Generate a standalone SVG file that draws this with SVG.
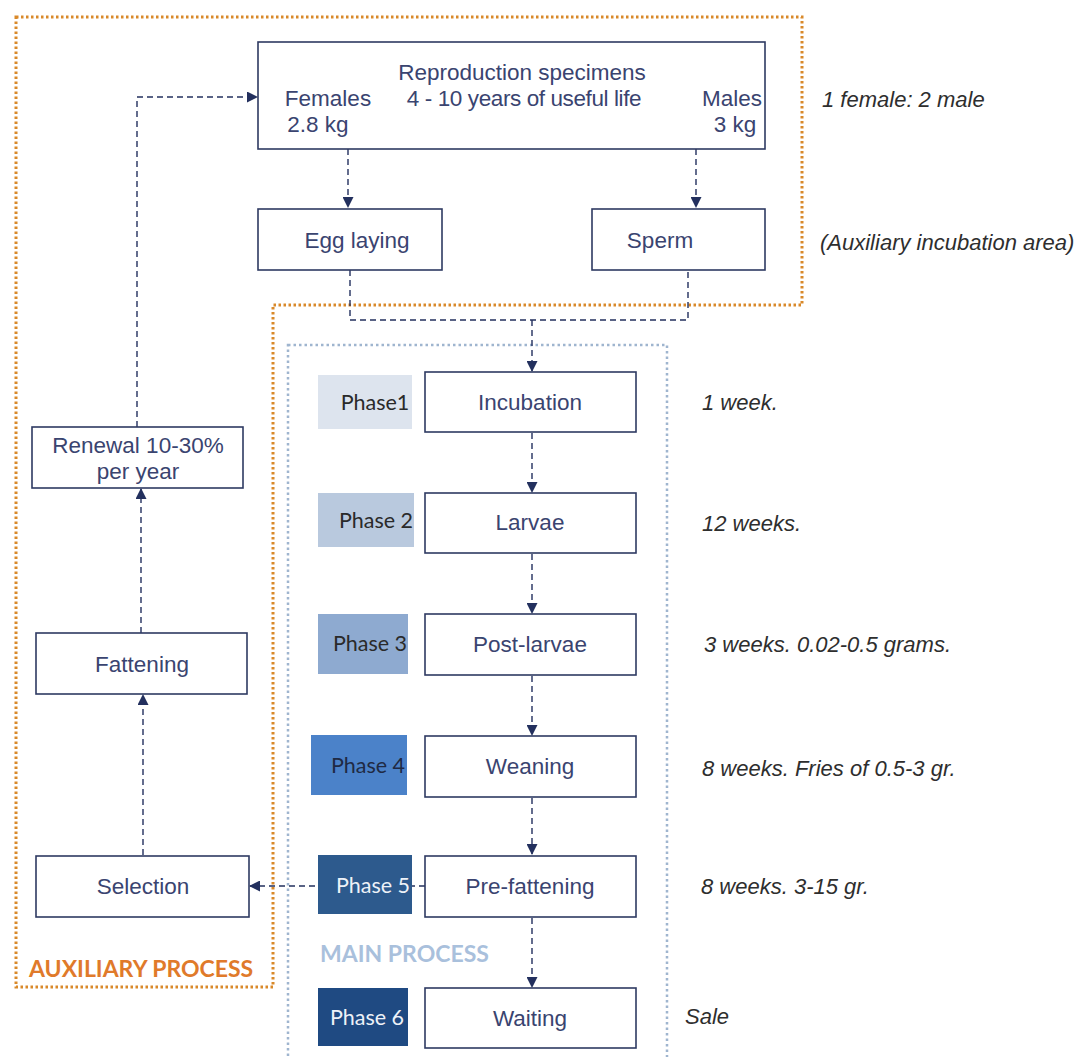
<svg xmlns="http://www.w3.org/2000/svg" width="1088" height="1057" viewBox="0 0 1088 1057">
  <style>
    .box { fill: #ffffff; stroke: #2e3a62; stroke-width: 1.6; }
    .lbl { font-family: "Liberation Sans", Arial, sans-serif; font-size: 22.5px; fill: #3a4470; text-anchor: middle; }
    .note { font-family: "Liberation Sans", Arial, sans-serif; font-size: 22px; font-style: italic; fill: #2e2e2e; }
    .phase { font-family: Lato, "Open Sans", sans-serif; font-size: 21.5px; text-anchor: middle; }
    .conn { fill: none; stroke: #23305e; stroke-width: 1.4; stroke-dasharray: 6 4; }
    .arrow { fill: none; stroke: #23305e; stroke-width: 1.4; stroke-dasharray: 6 4; marker-end: url(#head); }
    .zone-aux { fill: none; stroke: #d9892a; stroke-width: 3; stroke-dasharray: 2.5 2.5; }
    .zone-main { fill: none; stroke: #9fb5cf; stroke-width: 2.5; stroke-dasharray: 2.5 3; }
    .zone-title { font-family: Lato, "Open Sans", sans-serif; font-size: 23px; font-weight: bold; }
  </style>
  <defs>
    <marker id="head" markerWidth="11" markerHeight="11" refX="10" refY="5.5" orient="auto" markerUnits="userSpaceOnUse">
      <path d="M0,0 L11,5.5 L0,11 Z" fill="#23305e"/>
    </marker>
  </defs>

  <rect width="1088" height="1057" fill="#ffffff"/>

  <!-- process zones -->
  <g id="zones">
    <path class="zone-aux" d="M16,17 H802 V305 H273 V987 H16 Z"/>
    <rect class="zone-main" x="288" y="345" width="379" height="730"/>
    <text class="zone-title" x="29" y="977" fill="#e07a2a">AUXILIARY PROCESS</text>
    <text class="zone-title" x="320" y="962" fill="#a9c0dc">MAIN PROCESS</text>
  </g>

  <!-- connectors -->
  <g id="connectors">
    <path class="arrow" d="M348,149 V207"/>
    <path class="arrow" d="M696,149 V207"/>
    <path class="conn" d="M350,270 V320 H688 V270"/>
    <path class="arrow" d="M532,320 V371"/>
    <path class="arrow" d="M532,433 V492"/>
    <path class="arrow" d="M532,554 V613"/>
    <path class="arrow" d="M532,676 V735"/>
    <path class="arrow" d="M532,798 V854"/>
    <path class="arrow" d="M532,918 V987"/>
    <path class="arrow" d="M425,886 H250"/>
    <path class="arrow" d="M143,855 V695"/>
    <path class="arrow" d="M141,633 V489"/>
    <path class="arrow" d="M137,427 V97 H257"/>
  </g>

  <!-- nodes -->
  <g id="node-reproduction">
    <rect class="box" x="258" y="42" width="507" height="107"/>
    <text class="lbl" x="522" y="80">Reproduction  specimens</text>
    <text class="lbl" x="328" y="106">Females</text>
    <text class="lbl" x="524" y="106" letter-spacing="-0.4">4 - 10 years of useful life</text>
    <text class="lbl" x="732" y="106">Males</text>
    <text class="lbl" x="318" y="132">2.8 kg</text>
    <text class="lbl" x="735" y="132">3 kg</text>
  </g>
  <g id="node-egg-laying">
    <rect class="box" x="258" y="209" width="184" height="61"/>
    <text class="lbl" x="357" y="248">Egg laying</text>
  </g>
  <g id="node-sperm">
    <rect class="box" x="592" y="209" width="173" height="61"/>
    <text class="lbl" x="660" y="248">Sperm</text>
  </g>

  <g id="node-incubation">
    <rect x="318" y="375" width="94" height="54" fill="#dde4ee"/>
    <text class="phase" x="375" y="410" fill="#2a2a2a">Phase1</text>
    <rect class="box" x="425" y="372" width="211" height="60"/>
    <text class="lbl" x="530" y="410">Incubation</text>
  </g>
  <g id="node-larvae">
    <rect x="318" y="493" width="96" height="54" fill="#b9c9de"/>
    <text class="phase" x="376" y="528" fill="#2a2a2a">Phase 2</text>
    <rect class="box" x="425" y="493" width="211" height="60"/>
    <text class="lbl" x="530" y="530">Larvae</text>
  </g>
  <g id="node-post-larvae">
    <rect x="318" y="614" width="90" height="60" fill="#8eaad0"/>
    <text class="phase" x="370" y="651" fill="#2a2a2a">Phase 3</text>
    <rect class="box" x="425" y="614" width="211" height="61"/>
    <text class="lbl" x="530" y="652">Post-larvae</text>
  </g>
  <g id="node-weaning">
    <rect x="311" y="735" width="96" height="60" fill="#4b82c9"/>
    <text class="phase" x="368" y="773" fill="#1f2a44">Phase 4</text>
    <rect class="box" x="425" y="736" width="211" height="61"/>
    <text class="lbl" x="530" y="774">Weaning</text>
  </g>
  <g id="node-pre-fattening">
    <rect x="318" y="855" width="94" height="59" fill="#2d5a8d"/>
    <text class="phase" x="373" y="893" fill="#eef2f8">Phase 5</text>
    <rect class="box" x="425" y="856" width="211" height="61"/>
    <text class="lbl" x="530" y="894">Pre-fattening</text>
  </g>
  <g id="node-waiting">
    <rect x="318" y="988" width="90" height="58" fill="#1f4a82"/>
    <text class="phase" x="367" y="1025" fill="#eef2f8">Phase 6</text>
    <rect class="box" x="425" y="988" width="211" height="60"/>
    <text class="lbl" x="530" y="1026">Waiting</text>
  </g>

  <g id="node-renewal">
    <rect class="box" x="32" y="427" width="211" height="61"/>
    <text class="lbl" x="138" y="453">Renewal 10-30%</text>
    <text class="lbl" x="138" y="479">per year</text>
  </g>
  <g id="node-fattening">
    <rect class="box" x="36" y="633" width="211" height="61"/>
    <text class="lbl" x="142" y="672">Fattening</text>
  </g>
  <g id="node-selection">
    <rect class="box" x="36" y="856" width="213" height="61"/>
    <text class="lbl" x="143" y="894">Selection</text>
  </g>

  <!-- side notes -->
  <g id="notes">
    <text class="note" x="822" y="107">1 female: 2 male</text>
    <text class="note" x="820" y="250">(Auxiliary incubation area)</text>
    <text class="note" x="702" y="410">1 week.</text>
    <text class="note" x="702" y="531">12 weeks.</text>
    <text class="note" x="704" y="652">3 weeks. 0.02-0.5 grams.</text>
    <text class="note" x="702" y="776">8 weeks. Fries of 0.5-3 gr.</text>
    <text class="note" x="701" y="894">8 weeks. 3-15 gr.</text>
    <text class="note" x="685" y="1024">Sale</text>
  </g>
</svg>
